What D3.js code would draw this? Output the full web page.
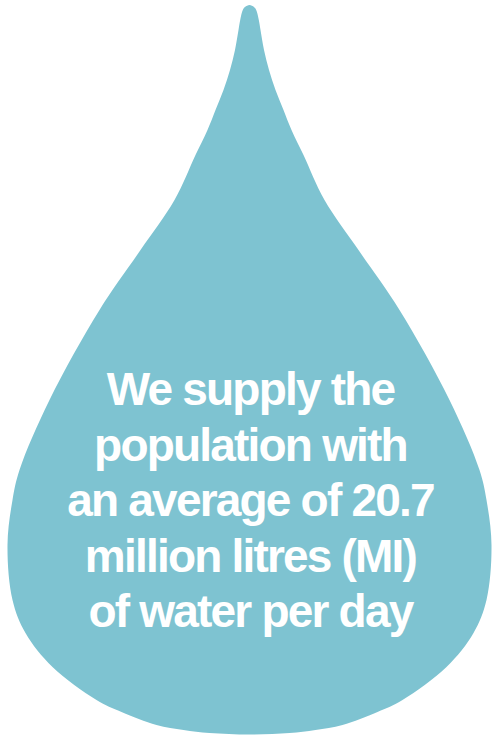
<!DOCTYPE html>
<html>
<head>
<meta charset="utf-8">
<script src="https://cdn.jsdelivr.net/npm/d3@7"></script>
<style>
  body { margin: 0; background: #fff; }
</style>
</head>
<body>
<div id="chart"></div>
<script>
// drop outline: height (px from top) and half width
var dropY = [5, 7, 10, 20, 30, 50, 70, 90, 110, 130, 155, 200, 250, 310, 400, 470, 500, 545, 600, 633, 667, 700, 712, 725, 730, 733, 734.5];
var dropHalfWidth = [0, 4.5, 6.7, 9.3, 11, 14.5, 19.5, 26, 34, 42, 54, 75, 109, 150, 200, 230, 237, 242, 237, 224, 197, 153, 128, 93, 66, 40, 0];

// the message inside the drop
var textLines = [
    "We supply the",
    "population with",
    "an average of 20.7",
    "million litres (MI)",
    "of water per day"
];

var width = 493, height = 735;
var cx = 249.5;

var svg = d3.select('#chart').append('svg')
    .attr('width', width)
    .attr('height', height)

var x = d3.scaleLinear().domain([-250, 250]).range([cx - 250, cx + 250]);
var y = d3.scaleLinear().domain([0, 735]).range([0, 735]);

// right side going down, then the left side back up
var pts = dropY.map((d, i) => [dropHalfWidth[i], d]);
for (var i = dropY.length - 2; i > 0; i--) {
    pts.push([-dropHalfWidth[i], dropY[i]]);
}

var line = d3.line()
    .x(d => x(d[0]))
    .y(d => y(d[1]))
    .curve(d3.curveCatmullRomClosed.alpha(0.5));

svg.append('path')
    .attr('d', line(pts))
    .attr('fill', '#7ec3d1')

// text lines
var lineY = d3.scaleLinear().domain([0, textLines.length - 1]).range([405, 627]);

svg.append('g')
    .selectAll('text')
    .data(textLines)
    .enter()
    .append('text')
        .attr('x', cx + 1)
        .attr('y', (d, i) => lineY(i))
        .attr('text-anchor', 'middle')
        .attr('fill', '#fff')
        .style('font-family', '"Liberation Sans", Arial, sans-serif')
        .style('font-weight', 'bold')
        .style('font-size', '46px')
        .style('letter-spacing', '-1.8px')
        .text(d => d)
</script>
</body>
</html>
